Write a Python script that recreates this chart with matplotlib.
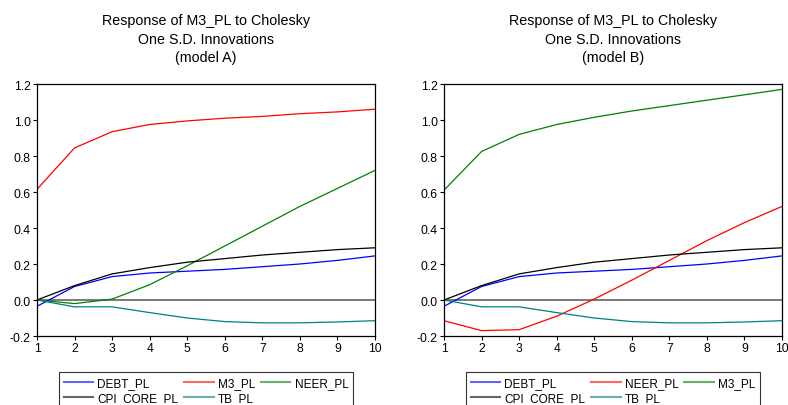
import matplotlib.pyplot as plt

plt.rcParams['font.family'] = ['Liberation Sans', 'DejaVu Sans']

periods = [1, 2, 3, 4, 5, 6, 7, 8, 9, 10]

# model A
debt_a = [-0.035, 0.075, 0.13, 0.15, 0.16, 0.17, 0.185, 0.20, 0.22, 0.245]
m3_a = [0.615, 0.845, 0.935, 0.975, 0.995, 1.01, 1.02, 1.035, 1.045, 1.06]
neer_a = [0.0, -0.02, 0.005, 0.085, 0.19, 0.30, 0.41, 0.52, 0.62, 0.72]
cpi_a = [0.0, 0.08, 0.145, 0.18, 0.21, 0.23, 0.25, 0.265, 0.28, 0.29]
tb_a = [0.0, -0.038, -0.038, -0.07, -0.10, -0.12, -0.127, -0.127, -0.122, -0.115]

# model B
debt_b = [-0.035, 0.075, 0.13, 0.15, 0.16, 0.17, 0.185, 0.20, 0.22, 0.245]
neer_b = [-0.115, -0.17, -0.165, -0.09, 0.005, 0.11, 0.22, 0.33, 0.43, 0.52]
m3_b = [0.61, 0.825, 0.92, 0.975, 1.015, 1.05, 1.08, 1.11, 1.14, 1.17]
cpi_b = [0.0, 0.08, 0.145, 0.18, 0.21, 0.23, 0.25, 0.265, 0.28, 0.29]
tb_b = [0.0, -0.038, -0.038, -0.07, -0.10, -0.12, -0.127, -0.127, -0.122, -0.115]

yticks = [-0.2, 0.0, 0.2, 0.4, 0.6, 0.8, 1.0, 1.2]

fig = plt.figure(figsize=(7.88, 4.06), dpi=100)
W, H = 788, 406

panels = [
    (37, "(model A)", [("DEBT_PL", debt_a, "#0000ff"), ("M3_PL", m3_a, "#ff0000"),
                       ("NEER_PL", neer_a, "#008000"), ("CPI_CORE_PL", cpi_a, "#000000"),
                       ("TB_PL", tb_a, "#008080")], 59),
    (444, "(model B)", [("DEBT_PL", debt_b, "#0000ff"), ("NEER_PL", neer_b, "#ff0000"),
                        ("M3_PL", m3_b, "#008000"), ("CPI_CORE_PL", cpi_b, "#000000"),
                        ("TB_PL", tb_b, "#008080")], 466),
]

for left, sub, series, lg_l in panels:
    ax = fig.add_axes([left / W, 1 - 337 / H, 338 / W, 252 / H])
    ax.axhline(0, color="#555555", lw=1.1, zorder=1)
    handles = []
    for name, vals, col in series:
        ax.plot(periods, vals, color=col, lw=0.9, zorder=2)
        h, = ax.plot([], [], color=col, lw=1.5, alpha=0.6, label=name)
        handles.append(h)
    ax.set_xlim(1, 10)
    ax.set_ylim(-0.2, 1.2)
    ax.set_xticks(periods)
    ax.set_yticks(yticks)
    ax.set_yticklabels(["%.1f" % v for v in yticks])
    ax.tick_params(labelsize=8.7, length=3, width=0.8, pad=1.5)
    for s in ax.spines.values():
        s.set_linewidth(0.9)
    fig.text((left + 169) / W, 1 - 14 / H,
             "Response of M3_PL to Cholesky\nOne S.D. Innovations\n" + sub,
             fontsize=10.3, ha="center", va="top", linespacing=1.42)
    # matplotlib fills columns first; reorder so rows read DEBT, 2nd, 3rd / CPI, TB
    order = [0, 3, 1, 4, 2]
    leg = fig.legend([handles[i] for i in order], [series[i][0] for i in order],
                     ncol=3, loc="upper left",
                     bbox_to_anchor=(lg_l / W, 1 - 373 / H),
                     fontsize=8.5, frameon=True, fancybox=False,
                     handlelength=2.5, handletextpad=0.35, columnspacing=0.5,
                     labelspacing=0.25, borderpad=0.4, borderaxespad=0)
    leg.get_frame().set_edgecolor("black")
    leg.get_frame().set_linewidth(0.8)

fig.savefig("out.png", dpi=100)
